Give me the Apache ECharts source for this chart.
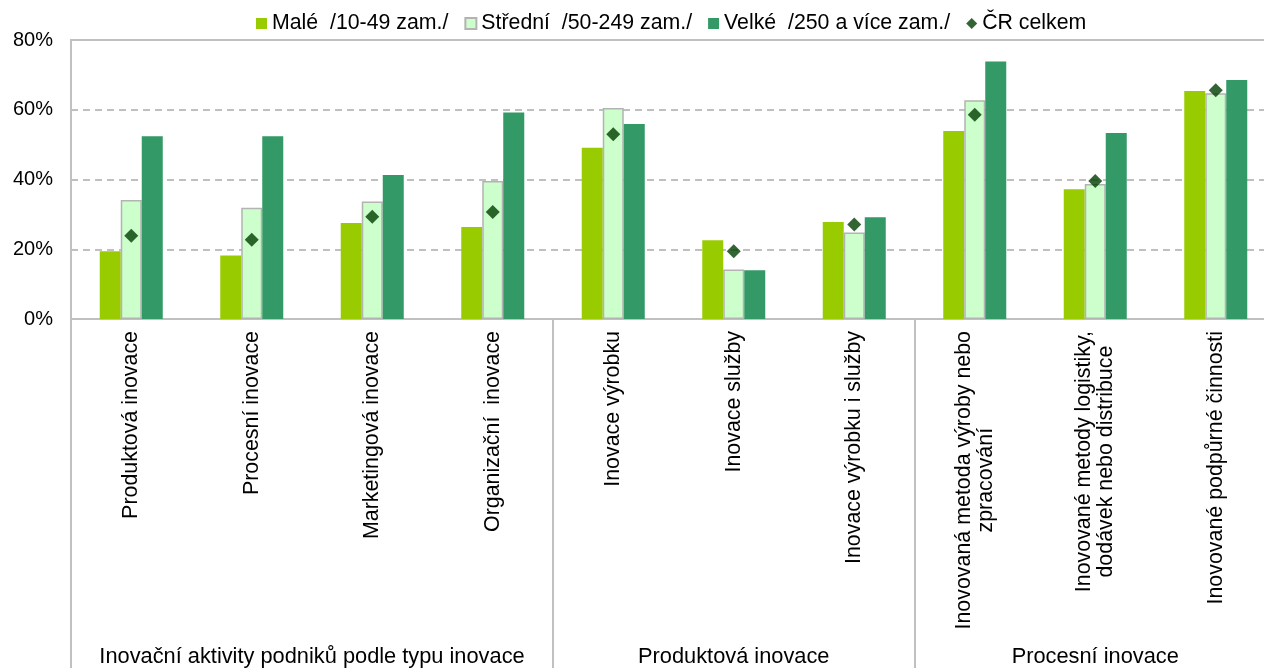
<!DOCTYPE html>
<html><head><meta charset="utf-8">
<script src="https://cdn.jsdelivr.net/npm/echarts@6/dist/echarts.min.js"></script>
<style>html,body{margin:0;padding:0;background:#fff;overflow:hidden;width:1264px;height:668px}#c{width:1284px;height:668px}</style>
</head><body><div id="c"></div><script>
const categories = ['Produktová inovace','Procesní inovace','Marketingová inovace','Organizační  inovace','Inovace výrobku','Inovace služby','Inovace výrobku i služby','Inovovaná metoda výroby nebo\nzpracování','Inovované metody logistiky,\ndodávek nebo distribuce','Inovované podpůrné činnosti'];
const groupNames = ['Inovační aktivity podniků podle typu inovace','Produktová inovace','Procesní inovace'];
const groupSizes = [4,3,3];
const seriesNames = ['Malé  /10-49 zam./','Střední  /50-249 zam./','Velké  /250 a více zam./','ČR celkem'];
const male    = [19.4,18.2,27.5,26.4,49.1,22.6,27.8,53.9,37.2,65.4];
const stredni = [34.1,31.9,33.7,39.6,60.5,14.2,24.8,62.7,38.7,64.7];
const velke   = [52.4,52.4,41.3,59.2,55.9,14.0,29.2,73.8,53.3,68.5];
const celkem  = [23.9,22.7,29.3,30.7,53.0,19.4,27.1,58.6,39.6,65.6];
const yMin = 0, yMax = 80, yStep = 20;

const FONT = '"Liberation Sans", Arial, sans-serif';
const nCat = categories.length;
const groupAxisData = [];
for (let i = 0; i <= 2 * nCat; i++) groupAxisData.push('');
const sepIdx = [0];
let start = 0;
groupNames.forEach((g, k) => {
  groupAxisData[2 * start + groupSizes[k]] = g;
  start += groupSizes[k];
  sepIdx.push(2 * start);
});
const GRAY = '#c0c0c0';
const chart = echarts.init(document.getElementById('c'));
chart.setOption({
  animation: false,
  textStyle: { fontFamily: FONT },
  legend: {
    left: 251, top: 8, itemWidth: 11, itemHeight: 11, itemGap: 16,
    textStyle: { fontSize: 21.3, color: '#000', fontFamily: FONT },
    data: [
      { name: seriesNames[0], icon: 'rect' },
      { name: seriesNames[1], icon: 'rect' },
      { name: seriesNames[2], icon: 'rect' },
      { name: seriesNames[3], icon: 'diamond' }
    ]
  },
  grid: { left: 71, top: 40, width: 1205, height: 279, show: true, borderColor: GRAY, borderWidth: 2 },
  xAxis: [
    {
      type: 'category', data: categories,
      axisLine: { lineStyle: { color: GRAY, width: 2 } },
      axisTick: { show: false },
      axisLabel: {
        rotate: 90, margin: 12, interval: 0, fontSize: 21.4, color: '#000', fontFamily: FONT,
        formatter: v => v.split('\n').map(s => '{c|' + s + '}').join('\n'),
        rich: { c: { align: 'center', fontSize: 21.4, fontFamily: FONT, color: '#000', lineHeight: 22 } }
      }
    },
    {
      type: 'category', data: groupAxisData, boundaryGap: false, position: 'bottom',
      axisLine: { show: false },
      axisTick: { show: true, interval: (i) => sepIdx.includes(i), length: 352, lineStyle: { color: GRAY, width: 2 } },
      axisLabel: { interval: 0, margin: 327, fontSize: 21.8, color: '#000', fontFamily: FONT }
    }
  ],
  yAxis: {
    type: 'value', min: yMin, max: yMax, interval: yStep,
    axisLabel: { formatter: '{value}%', fontSize: 20, color: '#000', margin: 18, fontFamily: FONT },
    axisLine: { show: true, lineStyle: { color: GRAY, width: 2 } },
    axisTick: { show: false },
    splitLine: { lineStyle: { color: GRAY, type: [7, 5], width: 2 } }
  },
  series: [
    { name: seriesNames[0], type: 'bar', data: male, barWidth: 21, barGap: '0%', itemStyle: { color: '#99cc00' } },
    { name: seriesNames[1], type: 'bar', data: stredni, barWidth: 21, barGap: '0%', itemStyle: { color: '#ccffcc', borderColor: '#b3b3b3', borderWidth: 1.5 } },
    { name: seriesNames[2], type: 'bar', data: velke, barWidth: 21, barGap: '0%', itemStyle: { color: '#339966' } },
    { name: seriesNames[3], type: 'scatter', data: celkem, symbol: 'diamond', symbolSize: 14, itemStyle: { color: '#003d00' }, z: 5 }
  ]
});
</script></body></html>
